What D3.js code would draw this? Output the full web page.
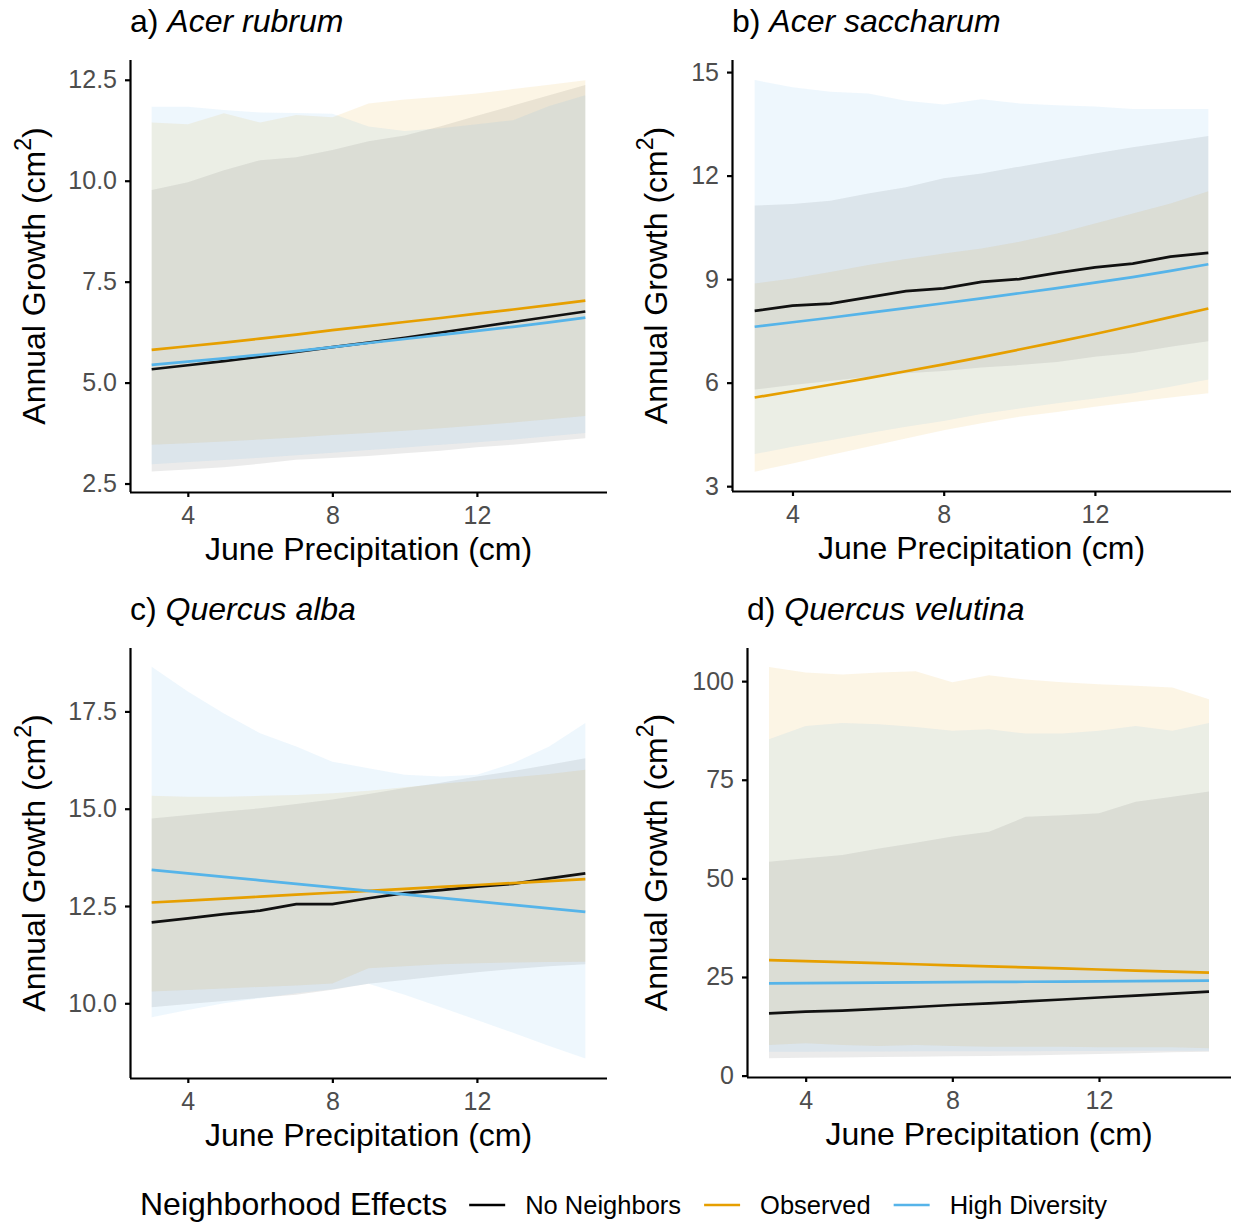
<!DOCTYPE html>
<html>
<head>
<meta charset="utf-8">
<script src="https://cdn.jsdelivr.net/npm/d3@7"></script>
<style>
body { margin: 0; background: #fff; }
text { font-family: "Liberation Sans", Arial, sans-serif; }
</style>
</head>
<body>
<div id="chart"></div>
<script>
// x values (June precipitation, cm)
var precip = [3, 4, 5, 6, 7, 8, 9, 10, 11, 12, 13, 14, 15];
var groups = ["No Neighbors", "Observed", "High Diversity"];
var groupColors = ["#000000", "#E69F00", "#56B4E9"];
var xTicks = [4, 8, 12];

// a) Acer rubrum
var rubNoneFit = [5.33, 5.43, 5.53, 5.64, 5.76, 5.88, 5.99, 6.11, 6.24, 6.37, 6.50, 6.63, 6.76];
var rubNoneLo  = [2.80, 2.85, 2.90, 2.99, 3.09, 3.13, 3.18, 3.25, 3.31, 3.40, 3.46, 3.54, 3.62];
var rubNoneHi  = [9.77, 9.96, 10.26, 10.51, 10.58, 10.76, 10.98, 11.12, 11.35, 11.61, 11.86, 12.12, 12.37];
var rubObsFit  = [5.81, 5.90, 5.99, 6.09, 6.19, 6.30, 6.40, 6.50, 6.60, 6.71, 6.81, 6.92, 7.03];
var rubObsLo   = [3.46, 3.50, 3.54, 3.59, 3.64, 3.70, 3.75, 3.81, 3.87, 3.94, 4.01, 4.09, 4.17];
var rubObsHi   = [11.44, 11.40, 11.67, 11.44, 11.63, 11.57, 11.91, 12.01, 12.08, 12.16, 12.27, 12.38, 12.49];
var rubDivFit  = [5.44, 5.52, 5.60, 5.69, 5.78, 5.88, 5.98, 6.08, 6.18, 6.28, 6.38, 6.49, 6.61];
var rubDivLo   = [2.98, 3.03, 3.08, 3.14, 3.20, 3.26, 3.33, 3.39, 3.46, 3.52, 3.59, 3.67, 3.75];
var rubDivHi   = [11.83, 11.83, 11.75, 11.69, 11.68, 11.66, 11.34, 11.23, 11.30, 11.40, 11.50, 11.85, 12.12];

// b) Acer saccharum
var sacNoneFit = [8.08, 8.23, 8.29, 8.47, 8.65, 8.73, 8.92, 9.00, 9.18, 9.34, 9.45, 9.65, 9.76];
var sacNoneLo  = [5.80, 5.93, 6.05, 6.17, 6.27, 6.34, 6.44, 6.51, 6.60, 6.75, 6.86, 7.04, 7.20];
var sacNoneHi  = [11.13, 11.18, 11.27, 11.48, 11.66, 11.92, 12.06, 12.26, 12.45, 12.64, 12.82, 12.98, 13.15];
var sacObsFit  = [5.57, 5.75, 5.94, 6.13, 6.33, 6.53, 6.74, 6.96, 7.18, 7.41, 7.65, 7.90, 8.15];
var sacObsLo   = [3.42, 3.66, 3.90, 4.14, 4.38, 4.62, 4.82, 5.01, 5.15, 5.30, 5.44, 5.57, 5.69];
var sacObsHi   = [8.87, 9.02, 9.21, 9.41, 9.58, 9.74, 9.89, 10.08, 10.32, 10.61, 10.90, 11.19, 11.55];
var sacDivFit  = [7.62, 7.75, 7.88, 8.02, 8.16, 8.30, 8.44, 8.59, 8.74, 8.90, 9.06, 9.24, 9.43];
var sacDivLo   = [3.93, 4.14, 4.33, 4.53, 4.72, 4.89, 5.09, 5.25, 5.40, 5.54, 5.69, 5.88, 6.09];
var sacDivHi   = [14.77, 14.56, 14.43, 14.38, 14.17, 14.06, 14.21, 14.09, 14.04, 14.00, 13.93, 13.93, 13.93];

// c) Quercus alba
var albNoneFit = [12.08, 12.18, 12.29, 12.38, 12.55, 12.55, 12.70, 12.83, 12.91, 13.00, 13.07, 13.21, 13.34];
var albNoneLo  = [9.90, 9.98, 10.06, 10.14, 10.22, 10.35, 10.50, 10.60, 10.70, 10.80, 10.88, 10.95, 11.00];
var albNoneHi  = [14.75, 14.84, 14.93, 15.01, 15.12, 15.24, 15.38, 15.53, 15.67, 15.83, 15.97, 16.13, 16.30];
var albObsFit  = [12.59, 12.64, 12.69, 12.74, 12.79, 12.84, 12.89, 12.94, 12.99, 13.04, 13.09, 13.14, 13.19];
var albObsLo   = [10.30, 10.34, 10.38, 10.42, 10.46, 10.51, 10.90, 10.95, 11.00, 11.03, 11.05, 11.06, 11.07];
var albObsHi   = [15.33, 15.31, 15.31, 15.33, 15.35, 15.40, 15.46, 15.55, 15.64, 15.72, 15.81, 15.89, 16.00];
var albDivFit  = [13.43, 13.34, 13.25, 13.16, 13.07, 12.98, 12.89, 12.80, 12.71, 12.62, 12.53, 12.44, 12.35];
var albDivLo   = [9.64, 9.83, 10.00, 10.13, 10.26, 10.36, 10.50, 10.22, 9.90, 9.57, 9.24, 8.90, 8.58];
var albDivHi   = [18.65, 18.01, 17.45, 16.94, 16.60, 16.21, 16.04, 15.87, 15.83, 15.87, 16.17, 16.60, 17.20];

// d) Quercus velutina
var velNoneFit = [15.8, 16.2, 16.5, 16.9, 17.4, 17.9, 18.3, 18.8, 19.3, 19.8, 20.3, 20.8, 21.3];
var velNoneLo  = [4.39, 4.50, 4.60, 4.70, 4.80, 4.90, 5.00, 5.10, 5.30, 5.50, 5.70, 5.90, 6.08];
var velNoneHi  = [54.2, 55.1, 55.9, 57.6, 59.0, 60.6, 61.8, 65.6, 66.0, 66.5, 69.4, 70.7, 72.0];
var velObsFit  = [29.30, 29.03, 28.77, 28.50, 28.23, 27.97, 27.70, 27.43, 27.17, 26.90, 26.63, 26.37, 26.10];
var velObsLo   = [7.77, 8.19, 7.77, 7.52, 7.77, 7.52, 7.35, 7.35, 7.35, 7.18, 7.18, 7.18, 6.93];
var velObsHi   = [103.6, 102.2, 101.7, 102.2, 102.5, 99.7, 101.5, 100.4, 99.7, 99.2, 98.8, 98.4, 95.4];
var velDivFit  = [23.40, 23.45, 23.51, 23.57, 23.62, 23.68, 23.74, 23.79, 23.85, 23.90, 23.96, 24.01, 24.07];
var velDivLo   = [6.08, 6.08, 6.10, 6.10, 6.15, 6.15, 6.20, 6.20, 6.25, 6.25, 6.30, 6.30, 6.33];
var velDivHi   = [85.3, 88.6, 89.4, 89.1, 88.4, 87.4, 87.8, 86.7, 86.7, 87.4, 88.6, 87.4, 89.4];

var panels = [
  { tag: "a) ", species: "Acer rubrum", left: 130, right: 607, top: 60, bottom: 492,
    yDomain: [2.29, 12.99], yTicks: [2.5, 5, 7.5, 10, 12.5], yFmt: ".1f", labelX: 45,
    fits: [rubNoneFit, rubObsFit, rubDivFit], los: [rubNoneLo, rubObsLo, rubDivLo], his: [rubNoneHi, rubObsHi, rubDivHi] },
  { tag: "b) ", species: "Acer saccharum", left: 732, right: 1231, top: 60, bottom: 491,
    yDomain: [2.86, 15.35], yTicks: [3, 6, 9, 12, 15], yFmt: "d", labelX: 667,
    fits: [sacNoneFit, sacObsFit, sacDivFit], los: [sacNoneLo, sacObsLo, sacDivLo], his: [sacNoneHi, sacObsHi, sacDivHi] },
  { tag: "c) ", species: "Quercus alba", left: 130, right: 607, top: 648, bottom: 1078,
    yDomain: [8.08, 19.13], yTicks: [10, 12.5, 15, 17.5], yFmt: ".1f", labelX: 45,
    fits: [albNoneFit, albObsFit, albDivFit], los: [albNoneLo, albObsLo, albDivLo], his: [albNoneHi, albObsHi, albDivHi] },
  { tag: "d) ", species: "Quercus velutina", left: 747, right: 1231, top: 648, bottom: 1077,
    yDomain: [-0.35, 108.4], yTicks: [0, 25, 50, 75, 100], yFmt: "d", labelX: 667,
    fits: [velNoneFit, velObsFit, velDivFit], los: [velNoneLo, velObsLo, velDivLo], his: [velNoneHi, velObsHi, velDivHi] }
];

var svg = d3.select("#chart").append("svg")
  .attr("width", 1235)
  .attr("height", 1223);

panels.forEach(function(p) {
  var x = d3.scaleLinear().domain([2.4, 15.6]).range([p.left, p.right]);
  var y = d3.scaleLinear().domain(p.yDomain).range([p.bottom, p.top]);
  var g = svg.append("g");

  // ribbons
  groups.forEach(function(name, k) {
    var band = d3.area()
      .x(function(d, i) { return x(precip[i]); })
      .y0(function(d, i) { return y(p.los[k][i]); })
      .y1(function(d, i) { return y(p.his[k][i]); });
    g.append("path")
      .attr("d", band(precip))
      .attr("fill", groupColors[k])
      .attr("fill-opacity", k == 0 ? 0.08 : 0.1);
  });

  // fitted lines
  groups.forEach(function(name, k) {
    var line = d3.line()
      .x(function(d, i) { return x(precip[i]); })
      .y(function(d, i) { return y(p.fits[k][i]); });
    g.append("path")
      .attr("d", line(precip))
      .attr("fill", "none")
      .attr("stroke", k == 0 ? "#111" : groupColors[k])
      .attr("stroke-width", 2.7);
  });

  var xAxis = g.append("g")
    .attr("transform", "translate(0," + p.bottom + ")")
    .call(d3.axisBottom(x).tickValues(xTicks).tickSize(5).tickSizeOuter(0).tickPadding(9));
  var yAxis = g.append("g")
    .attr("transform", "translate(" + p.left + ",0)")
    .call(d3.axisLeft(y).tickValues(p.yTicks).tickFormat(d3.format(p.yFmt)).tickSize(5).tickSizeOuter(0).tickPadding(8));

  [xAxis, yAxis].forEach(function(ax) {
    ax.attr("font-size", 25).attr("font-family", "Liberation Sans, Arial, sans-serif");
    ax.select(".domain").attr("stroke", "#000").attr("stroke-width", 2.2);
    ax.selectAll(".tick line").attr("stroke", "#000").attr("stroke-width", 2.2);
    ax.selectAll(".tick text").attr("fill", "#4d4d4d");
  });
  yAxis.select(".domain").attr("d", "M0.5," + p.bottom + "V" + p.top);
  xAxis.select(".domain").attr("d", "M" + p.left + ",0.5H" + p.right);

  // panel title
  var t = g.append("text")
    .attr("x", p.left)
    .attr("y", p.top - 28)
    .attr("font-size", 32)
    .attr("fill", "#000");
  t.append("tspan").text(p.tag);
  t.append("tspan").attr("font-style", "italic").text(p.species);

  // x axis title
  g.append("text")
    .attr("x", (p.left + p.right) / 2)
    .attr("y", p.bottom + 68)
    .attr("text-anchor", "middle")
    .attr("font-size", 32)
    .attr("fill", "#000")
    .text("June Precipitation (cm)");

  // y axis title
  var yt = g.append("text")
    .attr("transform", "translate(" + p.labelX + "," + ((p.top + p.bottom) / 2) + ") rotate(-90)")
    .attr("text-anchor", "middle")
    .attr("font-size", 32)
    .attr("fill", "#000");
  yt.append("tspan").text("Annual Growth (cm");
  yt.append("tspan").attr("font-size", 23).attr("dy", -14).text("2");
  yt.append("tspan").attr("dy", 14).text(")");
});

// legend
var leg = svg.append("g");
var lx = 140;
var title = leg.append("text")
  .attr("x", lx).attr("y", 1215)
  .attr("font-size", 32).attr("fill", "#000")
  .text("Neighborhood Effects");
lx += title.node().getComputedTextLength() + 22;
groups.forEach(function(name, k) {
  leg.append("line")
    .attr("x1", lx).attr("x2", lx + 36)
    .attr("y1", 1205).attr("y2", 1205)
    .attr("stroke", groupColors[k])
    .attr("stroke-width", 2.7);
  lx += 56;
  var lab = leg.append("text")
    .attr("x", lx).attr("y", 1214)
    .attr("font-size", 25.5).attr("fill", "#000")
    .text(name);
  lx += lab.node().getComputedTextLength() + 23;
});
</script>
</body>
</html>
